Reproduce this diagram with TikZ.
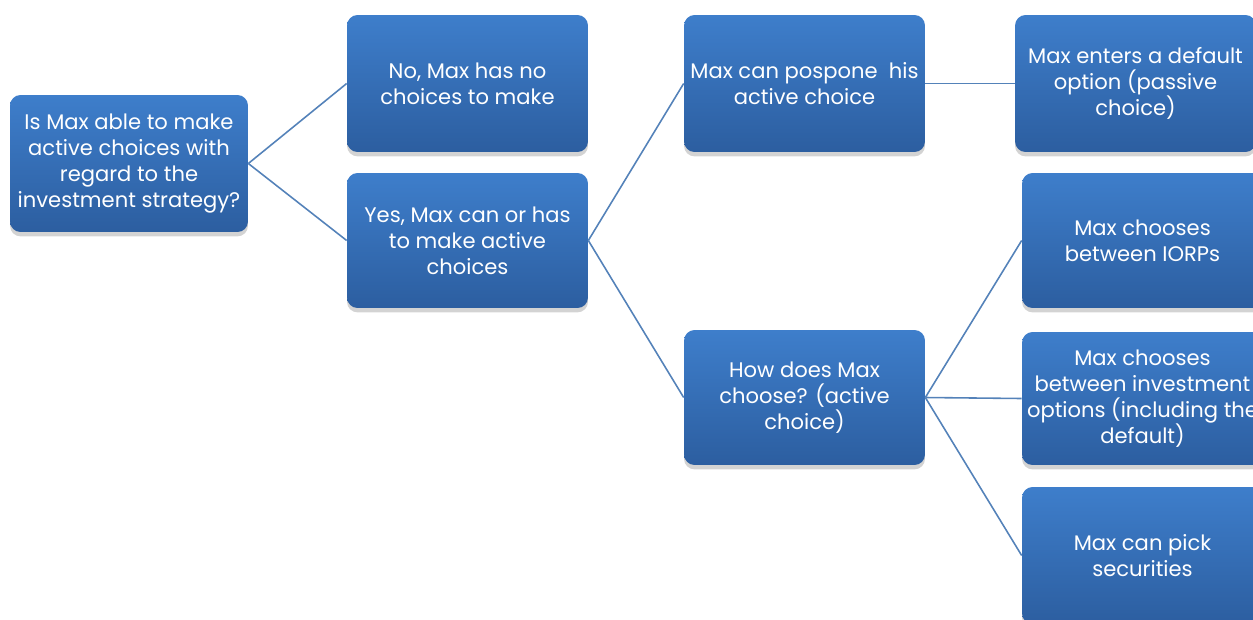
\documentclass[tikz,border=0pt]{standalone}
\usepackage{fontspec}
\setmainfont{Poppins}
\usepackage{tikz}
\usetikzlibrary{shadows}

\definecolor{boxtop}{RGB}{62,126,203}
\definecolor{boxbottom}{RGB}{44,94,160}
\definecolor{linkblue}{RGB}{84,130,185}

\begin{document}
\begin{tikzpicture}[x=0.02cm,y=-0.02cm,
    box/.style={rectangle,rounded corners=6pt,top color=boxtop,bottom color=boxbottom,
      text=white,align=center,minimum width=4.82cm,minimum height=2.74cm,inner sep=2pt,
      font=\fontsize{12}{14.8}\selectfont,
      drop shadow={shadow xshift=0pt,shadow yshift=-2.5pt,opacity=0.35}},
    link/.style={draw=linkblue,line width=0.9pt}]
    \useasboundingbox (0,0) rectangle (1253,619);
    \clip (0,0) rectangle (1253,619);

    % Question
    \node[box,minimum width=4.76cm] (able) at (129,163.5) {Is Max able to make\\active choices with\\regard to the\\investment strategy?};

    % First answers
    \node[box] (no) at (467.5,83.5) {No, Max has no\\choices to make};
    \node[box,minimum height=2.7cm] (yes) at (467.5,240.5) {Yes, Max can or has\\to make active\\choices};

    % Second level
    \node[box] (pospone) at (804.5,83.5) {Max can pospone~ his\\active choice};
    \node[box,minimum height=2.7cm] (how) at (804.5,397.5) {How does Max\\choose? (active\\choice)};

    % Outcomes
    \node[box] (default) at (1135.5,83.5) {Max enters a default\\option (passive\\choice)};
    \node[box,minimum height=2.7cm] (iorps) at (1142.5,240.5) {Max chooses\\between IORPs};
    \node[box,minimum height=2.66cm] (options) at (1142.5,398.5) {Max chooses\\between investment\\options (including the\\default)};
    \node[box] (pick) at (1142.5,555.5) {Max can pick\\securities};

    % Connectors
    \draw[link] (able.east) -- (no.west);
    \draw[link] (able.east) -- (yes.west);
    \draw[link] (yes.east) -- (pospone.west);
    \draw[link] (yes.east) -- (how.west);
    \draw[link] (pospone.east) -- (default.west);
    \draw[link] (how.east) -- (iorps.west);
    \draw[link] (how.east) -- (options.west);
    \draw[link] (how.east) -- (pick.west);
\end{tikzpicture}
\end{document}
